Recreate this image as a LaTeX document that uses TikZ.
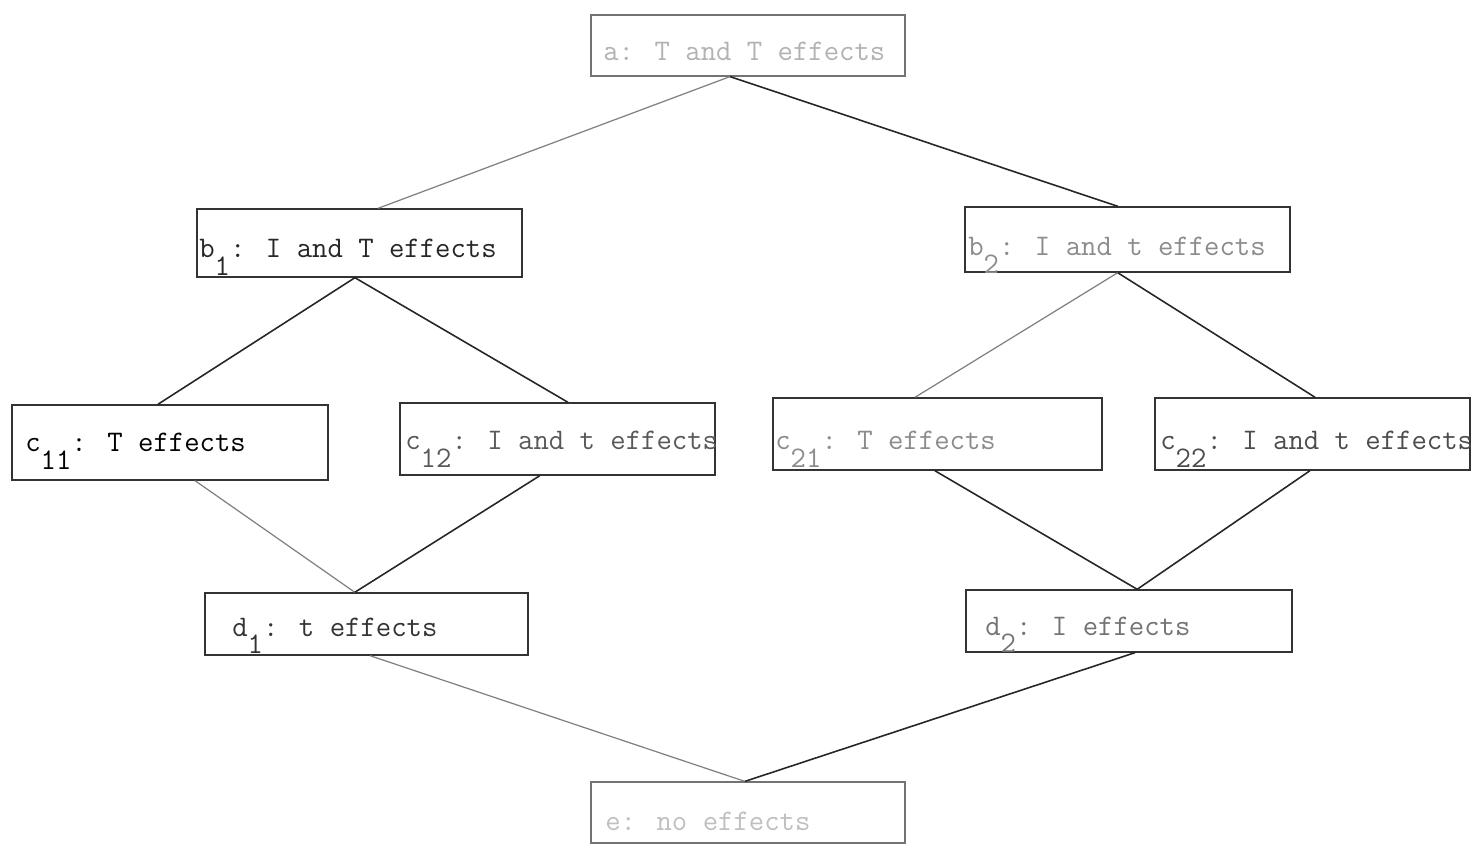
\documentclass[tikz,border=0pt]{standalone}
\usetikzlibrary{calc,fit}
\newcommand\sbx[1]{\raisebox{-0.6em}{#1}}
\newcommand\On[3]{($(#1.#2 west)!#3!(#1.#2 east)$)}
\tikzset{
  box/.style={draw=black!80, line width=0.8pt, inner sep=0pt},
  faintbox/.style={draw=black!55, line width=0.7pt, inner sep=0pt},
  lbl/.style={anchor=base west, inner sep=0pt, font=\fontsize{17}{20}\selectfont\ttfamily},
  con/.style={draw=black!85, line width=0.9pt},
  faintcon/.style={draw=black!50, line width=0.7pt}
}
\begin{document}
\begin{tikzpicture}[x=0.02cm,y=-0.02cm]
\useasboundingbox (0,0) rectangle (1471,844);
% boxes
\node[faintbox, fit={(591,15)(905,76)}] (a) {};
\node[box, fit={(197,209)(522,277)}] (b1) {};
\node[box, fit={(965,207)(1290,272)}] (b2) {};
\node[box, fit={(12,405)(328,480)}] (c11) {};
\node[box, fit={(400,403)(715,475)}] (c12) {};
\node[box, fit={(773,398)(1102,470)}] (c21) {};
\node[box, fit={(1155,398)(1470,470)}] (c22) {};
\node[box, fit={(205,593)(528,655)}] (d1) {};
\node[box, fit={(966,590)(1292,652)}] (d2) {};
\node[faintbox, fit={(591,782)(905,843)}] (e) {};
% labels
\node[lbl, text=black!30] (ta) at (603,61) {a: T and T effects};
\node[lbl, text=black!85] (tb1) at (199,258) {b\sbx{1}: I and T effects};
\node[lbl, text=black!45] (tb2) at (968,256) {b\sbx{2}: I and t effects};
\node[lbl, text=black] (tc11) at (25,452) {c\sbx{11}: T effects};
\node[lbl, text=black!65] (tc12) at (405,450) {c\sbx{12}: I and t effects};
\node[lbl, text=black!45] (tc21) at (775,450) {c\sbx{21}: T effects};
\node[lbl, text=black!70] (tc22) at (1160,450) {c\sbx{22}: I and t effects};
\node[lbl, text=black!80] (td1) at (232,636) {d\sbx{1}: t effects};
\node[lbl, text=black!55] (td2) at (985,635) {d\sbx{2}: I effects};
\node[lbl, text=black!25] (te) at (605,830) {e: no effects};
% connectors
\draw[faintcon] \On{a}{south}{0.443} -- \On{b1}{north}{0.557};
\draw[con] \On{a}{south}{0.443} -- \On{b2}{north}{0.47};
\draw[con] \On{b1}{south}{0.486} -- \On{c11}{north}{0.462};
\draw[con] \On{b1}{south}{0.486} -- \On{c12}{north}{0.533};
\draw[faintcon] \On{b2}{south}{0.47} -- \On{c21}{north}{0.432};
\draw[con] \On{b2}{south}{0.47} -- \On{c22}{north}{0.508};
\draw[faintcon] \On{c11}{south}{0.579} -- \On{d1}{north}{0.464};
\draw[con] \On{c12}{south}{0.444} -- \On{d1}{north}{0.464};
\draw[con] \On{c21}{south}{0.492} -- \On{d2}{north}{0.525};
\draw[con] \On{c22}{south}{0.492} -- \On{d2}{north}{0.525};
\draw[faintcon] \On{d1}{south}{0.511} -- \On{e}{north}{0.49};
\draw[con] \On{d2}{south}{0.518} -- \On{e}{north}{0.49};
\end{tikzpicture}
\end{document}
